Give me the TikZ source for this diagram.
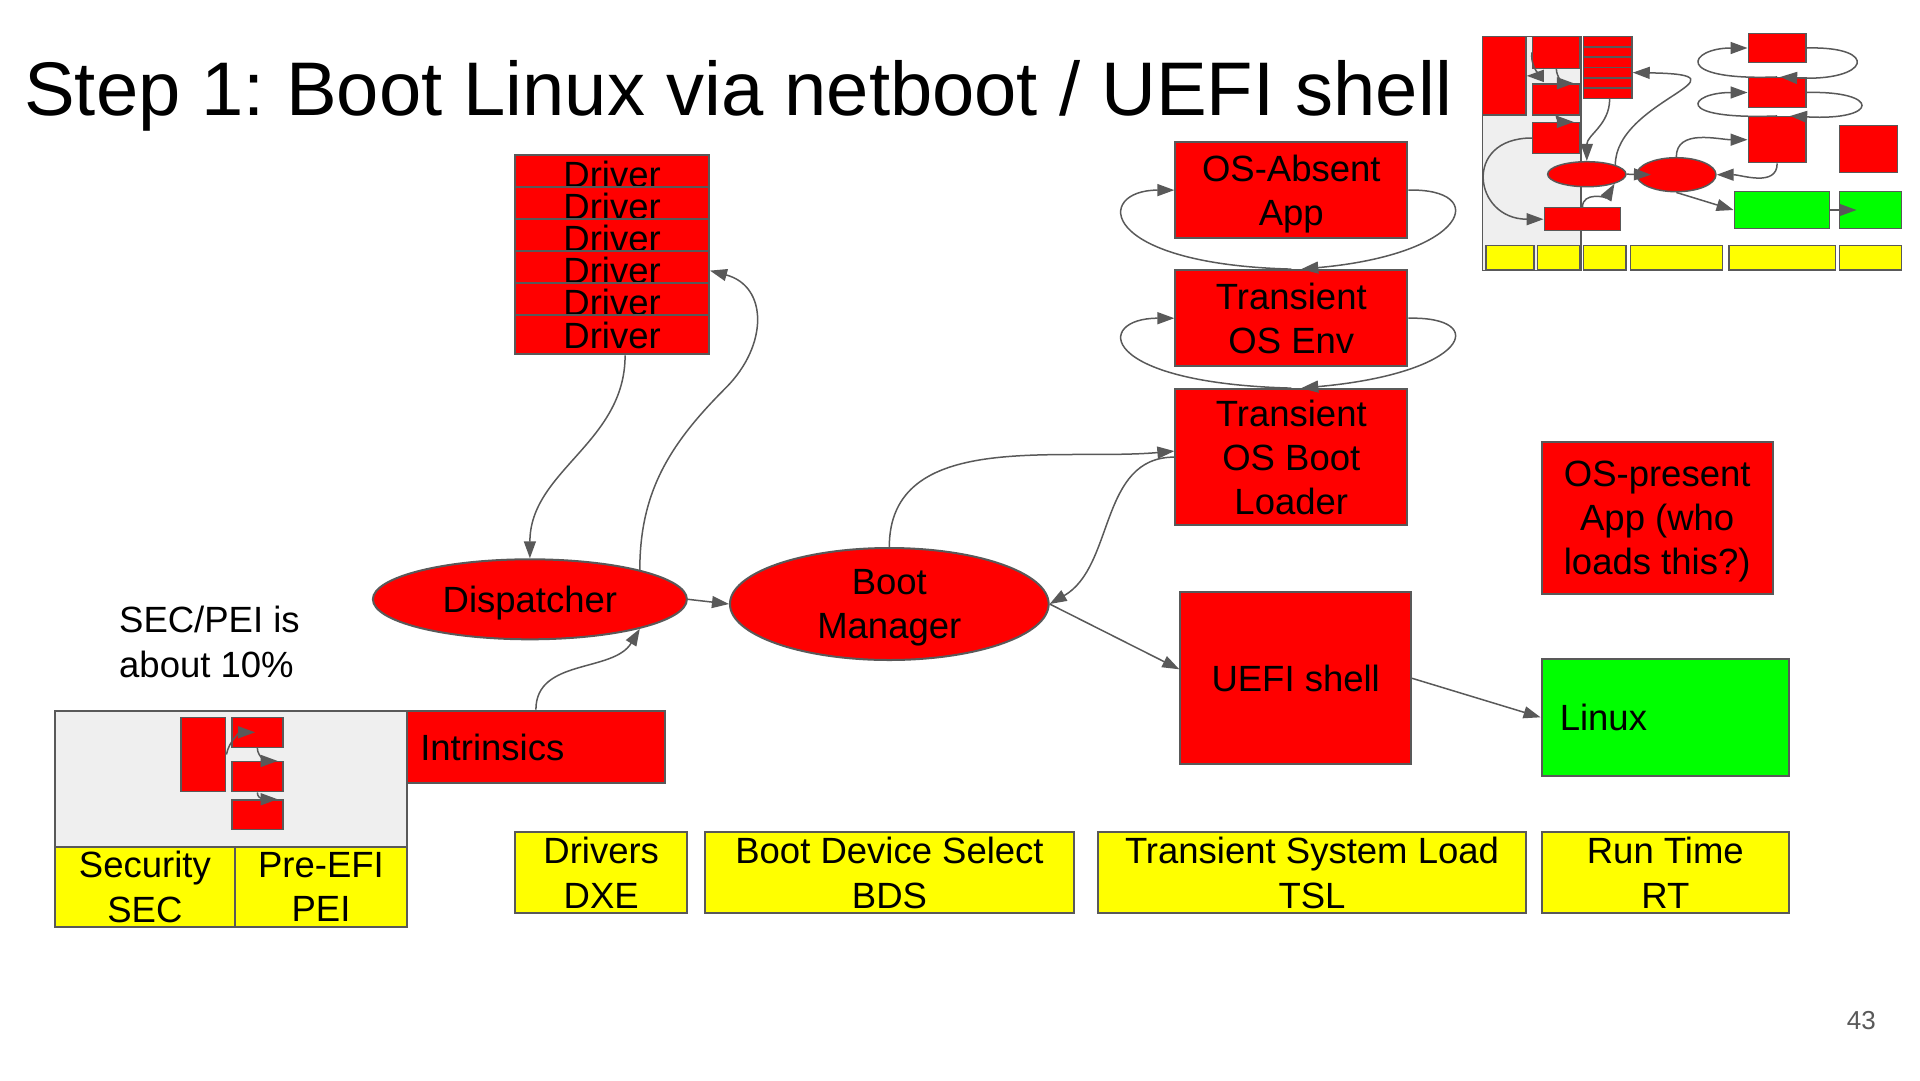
\documentclass[tikz,border=0pt]{standalone}
\usepackage{fontspec}
\setmainfont{Liberation Sans}
\usepackage{tikz}
\usetikzlibrary{shapes.geometric, arrows.meta, positioning}
\frenchspacing

\definecolor{linegray}{HTML}{595959}
\definecolor{panelgray}{HTML}{EFEFEF}
\definecolor{boxred}{HTML}{FF0000}
\definecolor{boxgreen}{HTML}{00FF00}
\definecolor{boxyellow}{HTML}{FFFF00}
\newcommand{\slidefont}{\fontsize{36.5pt}{44.3pt}\selectfont}
\newcommand{\titlefont}{\fontsize{76pt}{90pt}\selectfont}

\begin{document}
\begin{tikzpicture}[
  x=1pt, y=1pt,
  box/.style={draw=linegray, line width=2pt, inner sep=0pt, align=center, font=\slidefont, text depth=0pt},
  redbox/.style={box, fill=boxred},
  greenbox/.style={box, fill=boxgreen},
  phase/.style={box, fill=boxyellow, minimum height=81pt},
  oval/.style={box, ellipse, fill=boxred},
  tbox/.style={draw=linegray, line width=1.5pt, inner sep=0pt},
  arr/.style={-{Triangle[length=17pt,width=12pt]}, line width=1.5pt, draw=linegray},
]
\useasboundingbox (0,0) rectangle (1920,-1080);

% Title
\node[anchor=base west, inner sep=0pt, font=\titlefont] (title) at (24,-115) {Step 1: Boot Linux via netboot / UEFI shell};

% Driver stack
\node[redbox, minimum width=193.8pt, minimum height=39pt] (drv1) at (612.1,-174.3) {Driver};
\node[redbox, minimum width=193.8pt, minimum height=39pt] (drv2) at (612.1,-206.4) {Driver};
\node[redbox, minimum width=193.8pt, minimum height=39pt] (drv3) at (612.1,-238.5) {Driver};
\node[redbox, minimum width=193.8pt, minimum height=39pt] (drv4) at (612.1,-270.6) {Driver};
\node[redbox, minimum width=193.8pt, minimum height=39pt] (drv5) at (612.1,-302.7) {Driver};
\node[redbox, minimum width=193.8pt, minimum height=39pt] (drv6) at (612.1,-334.8) {Driver};

% DXE / BDS
\node[oval, minimum width=314pt, minimum height=80pt] (disp) at (529.9,-599.3) {Dispatcher};
\node[oval, minimum width=318.7pt, minimum height=112pt] (bootmgr) at (889.3,-604) {Boot\\Manager};
\node[redbox, align=left, text width=231.2pt, inner xsep=13pt, minimum height=72.6pt] (intr) at (535.9,-747) {Intrinsics};

% SEC / PEI
\node[anchor=west, align=left, inner sep=0pt, font=\slidefont] (secnote) at (119,-642) {SEC/PEI is\\about 10\%};
\node[box, fill=panelgray, minimum width=352.2pt, minimum height=216.6pt] (peibox) at (231.2,-819) {};
\node[phase, minimum width=179.6pt, minimum height=80.8pt] (sec) at (144.9,-886.9) {Security\\SEC};
\node[phase, minimum width=172.6pt, minimum height=80.8pt] (pei) at (321,-886.9) {Pre-EFI\\PEI};
\node[tbox, fill=boxred, minimum width=44.9pt, minimum height=74.4pt] (pa) at (203.25,-754.5) {};
\node[tbox, fill=boxred, minimum width=51.1pt, minimum height=30pt] (pb) at (257.35,-732.3) {};
\node[tbox, fill=boxred, minimum width=51.1pt, minimum height=30pt] (pc) at (257.35,-776.7) {};
\node[tbox, fill=boxred, minimum width=51.1pt, minimum height=29.3pt] (pd) at (257.35,-814.65) {};
\draw[arr] (pa.east) to[out=80, in=180] ([xshift=24pt]pb.west);
\draw[arr] (pb.south) to[out=-90, in=180] ([xshift=-6pt]pc.north east);
\draw[arr] (pc.south) to[out=-90, in=180] ([xshift=-6pt]pd.north east);

% TSL
\node[redbox, minimum width=231.9pt, minimum height=95.4pt] (osaa) at (1291.3,-190.1) {OS-Absent\\App};
\node[redbox, minimum width=231.9pt, minimum height=96.2pt] (tose) at (1291.3,-318.2) {Transient\\OS Env};
\node[redbox, minimum width=231.9pt, minimum height=136pt] (tosbl) at (1291.3,-457.1) {Transient\\OS Boot\\Loader};
\node[redbox, minimum width=230.8pt, minimum height=172pt] (uefi) at (1295.7,-678.3) {UEFI shell};

% RT
\node[redbox, minimum width=231.3pt, minimum height=151.7pt] (ospres) at (1657.2,-517.7) {OS-present\\App (who\\loads this?)};
\node[greenbox, align=left, text width=210.9pt, inner xsep=18.2pt, minimum height=117.4pt] (linux) at (1665.2,-717.3) {Linux};

% Phases
\node[phase, minimum width=172.3pt] (dxe) at (601.2,-872.8) {Drivers\\DXE};
\node[phase, minimum width=368.9pt] (bds) at (889.5,-872.8) {Boot Device Select\\BDS};
\node[phase, minimum width=427.3pt] (tsl) at (1312,-872.8) {Transient System Load\\TSL};
\node[phase, minimum width=247.4pt] (rt) at (1665.3,-872.8) {Run Time\\RT};

% Connectors
\draw[arr] ([xshift=13pt]drv6.south) to[out=-90, in=90] (disp.north);
\draw[arr] (disp.15) to[out=90, in=-135] ++(86,182) to[out=45, in=-15, looseness=1.3] (drv4.east);
\draw[arr] (intr.north) to[out=90, in=-121] (disp.-15);
\draw[arr] (disp.east) -- (bootmgr.west);
\draw[arr] (bootmgr.north) to[out=90, in=185] ([yshift=6pt]tosbl.west);
\draw[arr] (tosbl.west) to[out=180, in=30] (bootmgr.east);
\draw[arr] (bootmgr.east) -- ([yshift=9pt]uefi.west);
\draw[arr] (uefi.east) -- (linux.west);
\draw[arr] (tose.north) .. controls +(-195,5) and +(-80,0) .. (osaa.west);
\draw[arr] (osaa.east) .. controls +(82,2) and +(168,15) .. ([xshift=10pt]tose.north);
\draw[arr] (tosbl.north) .. controls +(-195,5) and +(-80,0) .. (tose.west);
\draw[arr] (tose.east) .. controls +(82,2) and +(168,15) .. ([xshift=10pt]tosbl.north);

% Page number
\node[anchor=base east, inner sep=0pt, font=\fontsize{26pt}{30pt}\selectfont, text=linegray] (pagenum) at (1876,-1029.3) {43};

% Overview thumbnail
\node[tbox, fill=panelgray, minimum width=98.3pt, minimum height=234pt] (tpanel) at (1531.85,-153.7) {};
\node[tbox, fill=boxyellow, minimum width=48pt, minimum height=24.3pt] (ty1) at (1510,-257.85) {};
\node[tbox, fill=boxyellow, minimum width=42.3pt, minimum height=24.3pt] (ty2) at (1558.85,-257.85) {};
\node[tbox, fill=boxyellow, minimum width=42.7pt, minimum height=24.3pt] (ty3) at (1604.65,-257.85) {};
\node[tbox, fill=boxyellow, minimum width=92pt, minimum height=24.3pt] (ty4) at (1676.7,-257.85) {};
\node[tbox, fill=boxyellow, minimum width=106.7pt, minimum height=24.3pt] (ty5) at (1782.35,-257.85) {};
\node[tbox, fill=boxyellow, minimum width=62.4pt, minimum height=24.3pt] (ty6) at (1870.5,-257.85) {};
\node[tbox, fill=boxred, minimum width=43.3pt, minimum height=78.3pt] (tr1) at (1504.35,-75.85) {};
\node[tbox, fill=boxred, minimum width=47.3pt, minimum height=31.6pt] (tr2) at (1556.35,-52.5) {};
\node[tbox, fill=boxred, minimum width=47.3pt, minimum height=31pt] (tr3) at (1556.35,-99.5) {};
\node[tbox, fill=boxred, minimum width=47.3pt, minimum height=30.6pt] (tr4) at (1556.35,-138) {};
\node[tbox, fill=boxred, minimum width=48.7pt, minimum height=10.27pt] (tdrv1) at (1607.65,-41.8) {};
\node[tbox, fill=boxred, minimum width=48.7pt, minimum height=10.27pt] (tdrv2) at (1607.65,-52.1) {};
\node[tbox, fill=boxred, minimum width=48.7pt, minimum height=10.27pt] (tdrv3) at (1607.65,-62.4) {};
\node[tbox, fill=boxred, minimum width=48.7pt, minimum height=10.27pt] (tdrv4) at (1607.65,-72.6) {};
\node[tbox, fill=boxred, minimum width=48.7pt, minimum height=10.27pt] (tdrv5) at (1607.65,-82.9) {};
\node[tbox, fill=boxred, minimum width=48.7pt, minimum height=10.27pt] (tdrv6) at (1607.65,-93.2) {};
\node[tbox, ellipse, fill=boxred, minimum width=78.3pt, minimum height=25pt] (tdisp) at (1586.8,-174.2) {};
\node[tbox, ellipse, fill=boxred, minimum width=79.3pt, minimum height=34pt] (tbm) at (1676.3,-174.7) {};
\node[tbox, fill=boxred, minimum width=76.4pt, minimum height=23pt] (tintr) at (1582.5,-219.2) {};
\node[tbox, fill=boxred, minimum width=57.7pt, minimum height=29.4pt] (tosaa) at (1777.15,-48) {};
\node[tbox, fill=boxred, minimum width=57.7pt, minimum height=29.6pt] (ttose) at (1777.15,-92.5) {};
\node[tbox, fill=boxred, minimum width=57.7pt, minimum height=46pt] (ttosbl) at (1777.15,-139.7) {};
\node[tbox, fill=boxred, minimum width=58.4pt, minimum height=46.6pt] (tospres) at (1868.5,-149) {};
\node[tbox, fill=boxgreen, minimum width=95pt, minimum height=36.6pt] (tuefi) at (1781.8,-210) {};
\node[tbox, fill=boxgreen, minimum width=62.4pt, minimum height=36.6pt] (tlinux) at (1870.5,-210) {};
\draw[arr] (tr2.west) to[out=-100, in=0] (tr1.east);
\draw[arr] (tr2.south) to[out=-90, in=180] ([xshift=-7pt]tr3.north east);
\draw[arr] (tr3.south) to[out=-90, in=180] ([xshift=-7pt]tr4.north east);
\draw[arr] (tr4.west) .. controls +(-70,0) and +(-70,0) .. (tintr.west);
\draw[arr] ([xshift=2pt]tdrv6.south) to[out=-90, in=90] (tdisp.north);
\draw[arr] (tdisp.18) .. controls +(0,65) and +(127,-2) .. (tdrv4.east);
\draw[arr] (tintr.north) to[out=90, in=-120] (tdisp.-19);
\draw[arr] (tdisp.east) -- ([xshift=15pt]tbm.west);
\draw[arr] (tbm.north) to[out=90, in=180] (ttosbl.west);
\draw[arr] (ttosbl.south) to[out=-90, in=0] (tbm.east);
\draw[arr] (tbm.south) -- (tuefi.west);
\draw[arr] (tuefi.east) -- ([xshift=18pt]tlinux.west);
\draw[arr] (ttose.north) .. controls +(-107,-4) and +(-58,0) .. (tosaa.west);
\draw[arr] (tosaa.east) .. controls +(74,2) and +(90,-5) .. ([xshift=3pt]ttose.north);
\draw[arr] (ttosbl.north) .. controls +(-107,-4) and +(-58,0) .. (ttose.west);
\draw[arr] (ttose.east) .. controls +(74,2) and +(90,-5) .. ([xshift=13pt]ttosbl.north);
\end{tikzpicture}
\end{document}
